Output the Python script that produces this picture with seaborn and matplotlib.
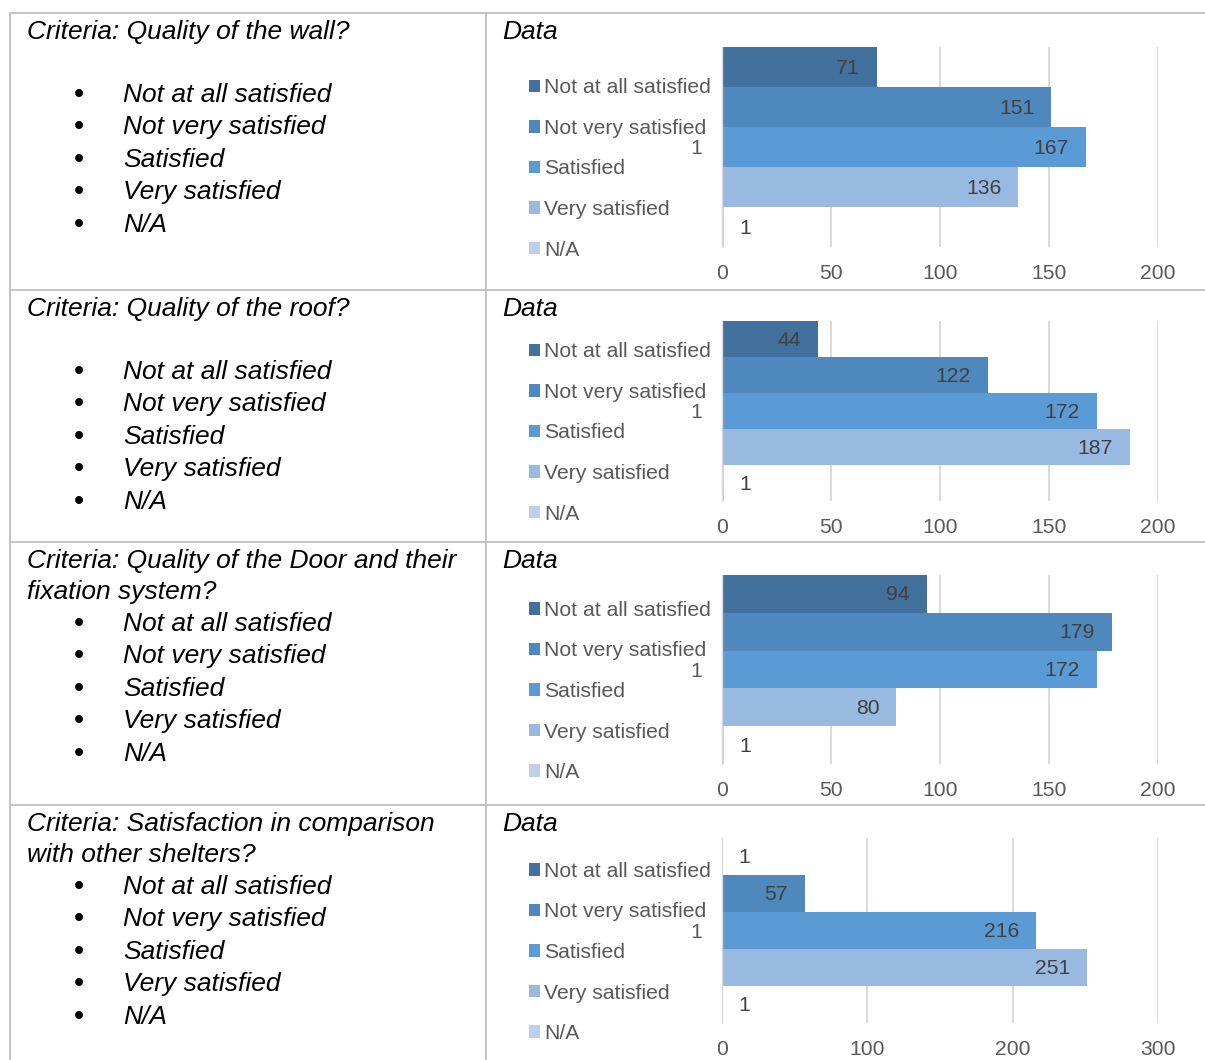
import matplotlib
matplotlib.use("Agg")
import matplotlib.pyplot as plt
import seaborn as sns
import pandas as pd
from matplotlib.lines import Line2D

# ---------------- data ----------------
responses = ["Not at all satisfied", "Not very satisfied", "Satisfied",
             "Very satisfied", "N/A"]
wall_counts = [71, 151, 167, 136, 1]
roof_counts = [44, 122, 172, 187, 1]
door_counts = [94, 179, 172, 80, 1]
comparison_counts = [1, 57, 216, 251, 1]
category_label = "1"

questions = [
    ["Criteria: Quality of the wall?"],
    ["Criteria: Quality of the roof?"],
    ["Criteria: Quality of the Door and their", "fixation system?"],
    ["Criteria: Satisfaction in comparison", "with other shelters?"],
]
axis_max = [200, 200, 200, 300]
tick_step = [50, 50, 50, 100]
all_counts = [wall_counts, roof_counts, door_counts, comparison_counts]

colors = ["#41719C", "#4F88BC", "#5B9BD5", "#98B9E0", "#BDD1EA"]

# ---------------- style ----------------
sns.set_theme(style="white")
plt.rcParams["font.family"] = ["Liberation Sans", "DejaVu Sans"]

W, H = 1205, 1060
def fx(x):
    return x / W
def fy(y):
    return 1 - y / H

fig = plt.figure(figsize=(W / 100, H / 100), dpi=100)

border_color = "#BFBFBF"
row_tops = [13, 290, 542, 805]
for y in row_tops:
    fig.add_artist(Line2D([fx(10), fx(1205)], [fy(y), fy(y)],
                          color=border_color, lw=1.3, transform=fig.transFigure))
for x in [10, 486]:
    fig.add_artist(Line2D([fx(x), fx(x)], [fy(13), fy(1060)],
                          color=border_color, lw=1.3, transform=fig.transFigure))

text_size = 19
chart_size = 15.2
plot_boxes = [(47, 247), (321, 501), (575, 764), (838, 1023)]
ax_left, ax_right = 722, 1158

for i in range(4):
    top = row_tops[i]
    # left column text
    for k, line in enumerate(questions[i]):
        fig.text(fx(27), fy(top + 19 + k * 31), line, fontsize=text_size,
                 fontstyle="italic", ha="left", va="center", color="black")
    for j, r in enumerate(responses):
        yy = top + 82 + j * 32.4
        fig.text(fx(79), fy(yy), "\u2022", fontsize=text_size + 2,
                 ha="center", va="center", color="black")
        fig.text(fx(123), fy(yy), r, fontsize=text_size, fontstyle="italic",
                 ha="left", va="center", color="black")
    fig.text(fx(502), fy(top + 19), "Data", fontsize=text_size,
             fontstyle="italic", ha="left", va="center", color="black")

    # chart
    pt, pb = plot_boxes[i]
    ax = fig.add_axes([fx(ax_left), fy(pb), fx(ax_right) - fx(ax_left),
                       (pb - pt) / H])
    df = pd.DataFrame({"group": [category_label] * len(responses),
                       "response": responses,
                       "count": all_counts[i]})
    sns.barplot(data=df, x="count", y="group", hue="response",
                hue_order=responses, palette=colors, orient="h",
                width=1.0, gap=0, saturation=1, linewidth=0, ax=ax,
                legend=True)
    ax.set_xlim(0, axis_max[i])
    ax.set_xticks(list(range(0, axis_max[i] + 1, tick_step[i])))
    ax.set_xlabel("")
    ax.set_ylabel("")
    ax.xaxis.grid(True, color="#D9D9D9", lw=1.4)
    ax.yaxis.grid(False)
    ax.set_axisbelow(True)
    for s in ["top", "right", "bottom"]:
        ax.spines[s].set_visible(False)
    ax.spines["left"].set_color("#D9D9D9")
    ax.spines["left"].set_linewidth(1.0)
    ax.tick_params(axis="x", length=0, pad=12, labelsize=chart_size,
                   labelcolor="#595959")
    ax.tick_params(axis="y", length=0, pad=14, labelsize=chart_size,
                   labelcolor="#595959")
    ax.set_facecolor("none")

    for cont in ax.containers:
        for bar in cont:
            w = bar.get_width()
            yc = bar.get_y() + bar.get_height() / 2
            label = f"{int(round(w))}"
            px_w = w / axis_max[i] * (ax_right - ax_left)
            if px_w > 40:
                ax.annotate(label, (w, yc), xytext=(-17, -1),
                            textcoords="offset pixels", ha="right",
                            va="center", fontsize=chart_size, color="#404040")
            else:
                ax.annotate(label, (w, yc), xytext=(15, -1),
                            textcoords="offset pixels", ha="left",
                            va="center", fontsize=chart_size, color="#404040")

    sns.move_legend(ax, "center left",
                    bbox_to_anchor=(fx(529), fy((pt + pb) / 2 + 22)),
                    bbox_transform=fig.transFigure, frameon=False, title=None,
                    fontsize=chart_size, labelcolor="#595959",
                    handlelength=0.53, handleheight=0.53, handletextpad=0.2,
                    labelspacing=1.02, borderpad=0, borderaxespad=0)

fig.savefig("out.png", dpi=100)
